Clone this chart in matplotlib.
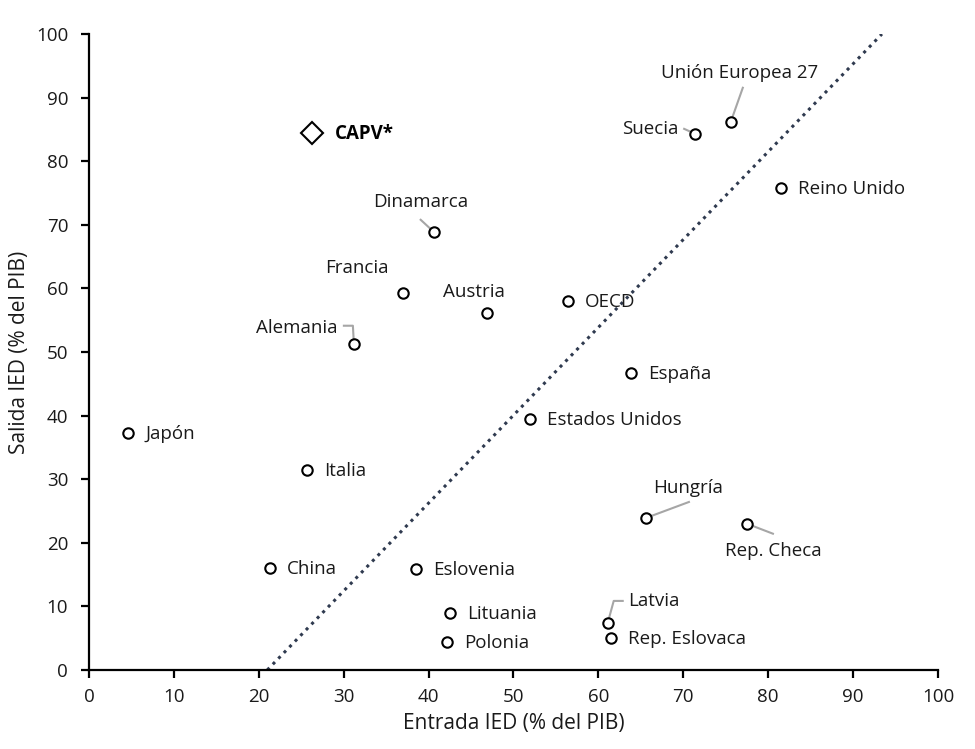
import matplotlib.pyplot as plt

plt.rcParams['font.family'] = ['Open Sans', 'DejaVu Sans']

# datos: entrada / salida IED (% del PIB)
paises = ['Japón', 'Reino Unido', 'OECD', 'España', 'Estados Unidos', 'Italia',
          'China', 'Eslovenia', 'Lituania', 'Polonia', 'Rep. Eslovaca',
          'Francia', 'Austria', 'Dinamarca', 'Alemania', 'Suecia',
          'Unión Europea 27', 'Hungría', 'Rep. Checa', 'Latvia']
entrada = [4.6, 81.5, 56.4, 63.8, 51.9, 25.7,
           21.3, 38.5, 42.5, 42.2, 61.5,
           37.0, 46.9, 40.6, 31.2, 71.4,
           75.6, 65.6, 77.5, 61.1]
salida = [37.3, 75.8, 58.0, 46.7, 39.5, 31.4,
          16.0, 15.9, 9.0, 4.4, 5.0,
          59.3, 56.1, 68.9, 51.3, 84.3,
          86.2, 23.9, 23.0, 7.4]

capv_x = [26.3]
capv_y = [84.4]

linea_x = [21.0, 93.4]
linea_y = [0, 100]

# posicion de etiquetas en pixeles (dx, dy, ha) y lineas guia
etiq = {
    'Francia': (-46, 25, 'center'),
    'Austria': (-13, 21, 'center'),
    'Dinamarca': (-13, 30, 'center'),
    'Alemania': (-16, 16, 'right'),
    'Suecia': (-17, 5, 'right'),
    'Unión Europea 27': (9, 49, 'center'),
    'Hungría': (42, 30, 'center'),
    'Rep. Checa': (26, -27, 'center'),
    'Latvia': (20, 22, 'left'),
}
guias = {
    'Dinamarca': [(-13, 12), (0, 0)],
    'Alemania': [(-10, 18), (-1, 18), (0, 0)],
    'Suecia': [(-11, 5), (0, 0)],
    'Unión Europea 27': [(12, 34), (0, 0)],
    'Hungría': [(43, 16), (0, 0)],
    'Rep. Checa': [(26, -10), (0, 0)],
    'Latvia': [(15, 22), (6, 22), (0, 0)],
}

fs = 13.5
px = 0.72  # pixel -> puntos a 100 dpi

fig = plt.figure(figsize=(9.75, 7.49), dpi=100)
ax = fig.add_axes([0.0913, 0.1055, 0.8707, 0.8491])
ax.set_xlim(0, 100)
ax.set_ylim(0, 100)

ax.plot(linea_x, linea_y, linestyle=(0, (1, 1.6)), color='#2f3a4f', linewidth=2.2, zorder=1)
ax.plot(entrada, salida, 'o', markersize=7.5, markerfacecolor='white',
        markeredgecolor='black', markeredgewidth=1.5, linestyle='none', zorder=3)
ax.plot(capv_x, capv_y, 'D', markersize=11, markerfacecolor='white',
        markeredgecolor='black', markeredgewidth=1.5, linestyle='none', zorder=3)
ax.annotate('CAPV*', (capv_x[0], capv_y[0]), xytext=(23 * px, -1 * px), textcoords='offset points',
            ha='left', va='center', fontsize=fs, fontweight='bold', color='black')

for nombre, x, y in zip(paises, entrada, salida):
    dx, dy, ha = etiq.get(nombre, (17, -1, 'left'))
    ax.annotate(nombre, (x, y), xytext=(dx * px, dy * px), textcoords='offset points',
                ha=ha, va='center', fontsize=fs, color='#1a1a1a')
    if nombre in guias:
        pts = guias[nombre]
        trans = ax.transData
        x0, y0 = trans.transform((x, y))
        xs, ys = [], []
        for i, (gx, gy) in enumerate(pts):
            if i == len(pts) - 1:
                # acortar hasta el borde del marcador
                px0, py0 = pts[i - 1]
                d = (px0 ** 2 + py0 ** 2) ** 0.5
                gx, gy = px0 * 5.5 / d, py0 * 5.5 / d
            xs.append(x0 + gx)
            ys.append(y0 + gy)
        inv = trans.inverted()
        dat = inv.transform(list(zip(xs, ys)))
        ax.plot(dat[:, 0], dat[:, 1], color='#a6a6a6', linewidth=1.5, zorder=2)

ax.set_xticks(range(0, 101, 10))
ax.set_yticks(range(0, 101, 10))
ax.spines['top'].set_visible(False)
ax.spines['right'].set_visible(False)
ax.spines['left'].set_linewidth(1.6)
ax.spines['bottom'].set_linewidth(1.6)
ax.tick_params(direction='out', length=6, width=1.6, labelsize=fs, colors='black',
               labelcolor='#1a1a1a')
ax.tick_params(axis='y', pad=9)
ax.tick_params(axis='x', pad=7)
ax.set_xlabel('Entrada IED (% del PIB)', fontsize=15, color='#1a1a1a', labelpad=5)
ax.set_ylabel('Salida IED (% del PIB)', fontsize=15, color='#1a1a1a', labelpad=4)

fig.savefig('out.png', dpi=100)
